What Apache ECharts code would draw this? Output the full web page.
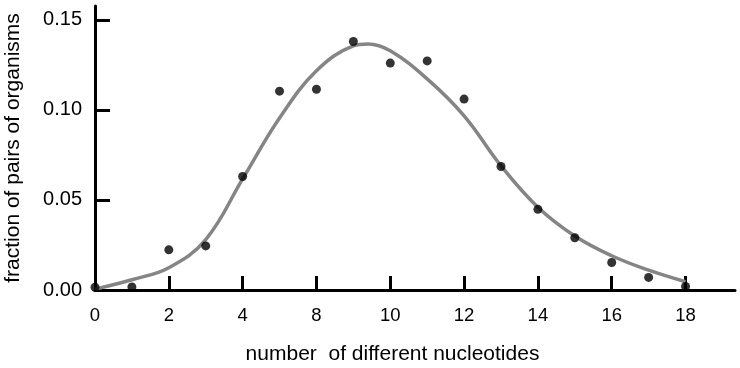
<!DOCTYPE html>
<html><head><meta charset="utf-8">
<script src="https://cdn.jsdelivr.net/npm/echarts@6/dist/echarts.min.js"></script>
<style>html,body{margin:0;padding:0;background:#fff}#c{width:740px;height:368px}</style>
</head><body><div id="c"></div>
<script>
// observed points: x = position index (0..16), y = fraction
const pointX = [0,1,2,3,4,5,6,7,8,9,10,11,12,13,14,15,16];
const pointY = [0.0015,0.0017,0.0223,0.0245,0.063,0.1104,0.1115,0.138,0.126,0.1272,0.106,0.0686,0.0448,0.029,0.0153,0.007,0.002];
// fitted curve
const curveX = [0,1,2,3,4,5,6,7,7.4,8,9,10,11,12,13,14,15,16];
const curveY = [0.0005,0.0057,0.0124,0.028,0.0617,0.0955,0.1217,0.1355,0.1366,0.1328,0.1172,0.0967,0.069,0.046,0.030,0.019,0.011,0.0046];
// tick labels as printed (the original skips "6")
const xTickValues = [0,2,4,6,8,10,12,14,16];
const xTickLabels = ["0","2","4","8","10","12","14","16","18"];
const yTickValues = [0,0.05,0.10,0.15];
const yTickLabels = ["0.00","0.05","0.10","0.15"];

const font = '"Liberation Sans", Arial, sans-serif';
const chart = echarts.init(document.getElementById('c'));
chart.setOption({
  animation:false,
  grid:{left:95,right:5,top:6,bottom:78,containLabel:false,outerBoundsMode:'none'},
  xAxis:{
    type:'value', min:0, max:17.34,
    name:'number  of different nucleotides', nameLocation:'middle', nameGap:54,
    nameTextStyle:{fontFamily:font,fontSize:21,color:'#000',padding:[0,45,0,0]},
    axisLine:{lineStyle:{color:'#000',width:3}},
    axisTick:{inside:true,length:14,lineStyle:{color:'#000',width:3},customValues:xTickValues},
    axisLabel:{customValues:xTickValues,margin:16,fontFamily:font,fontSize:18.5,color:'#000',
      formatter:v=>{const i=xTickValues.indexOf(v);return i>=0?xTickLabels[i]:'';}},
    splitLine:{show:false}
  },
  yAxis:{
    type:'value', min:0, max:0.1577,
    name:'fraction of pairs of organisms', nameLocation:'middle', nameGap:71,
    nameTextStyle:{fontFamily:font,fontSize:21,color:'#000'},
    axisLine:{show:true,lineStyle:{color:'#000',width:3}},
    axisTick:{show:true,inside:true,length:15,lineStyle:{color:'#000',width:3},customValues:yTickValues},
    axisLabel:{customValues:yTickValues,margin:13,fontFamily:font,fontSize:20,color:'#000',
      formatter:v=>{const i=yTickValues.findIndex(t=>Math.abs(t-v)<1e-9);return i>=0?yTickLabels[i]:'';}},
    splitLine:{show:false}
  },
  series:[
    {type:'line',data:curveX.map((x,i)=>[x,curveY[i]]),smooth:0.4,symbol:'none',
     lineStyle:{color:'#858585',width:3.5},z:2},
    {type:'scatter',data:pointX.map((x,i)=>[x,pointY[i]]),symbol:'circle',symbolSize:9,
     itemStyle:{color:'#000'},z:3}
  ]
});
</script></body></html>
